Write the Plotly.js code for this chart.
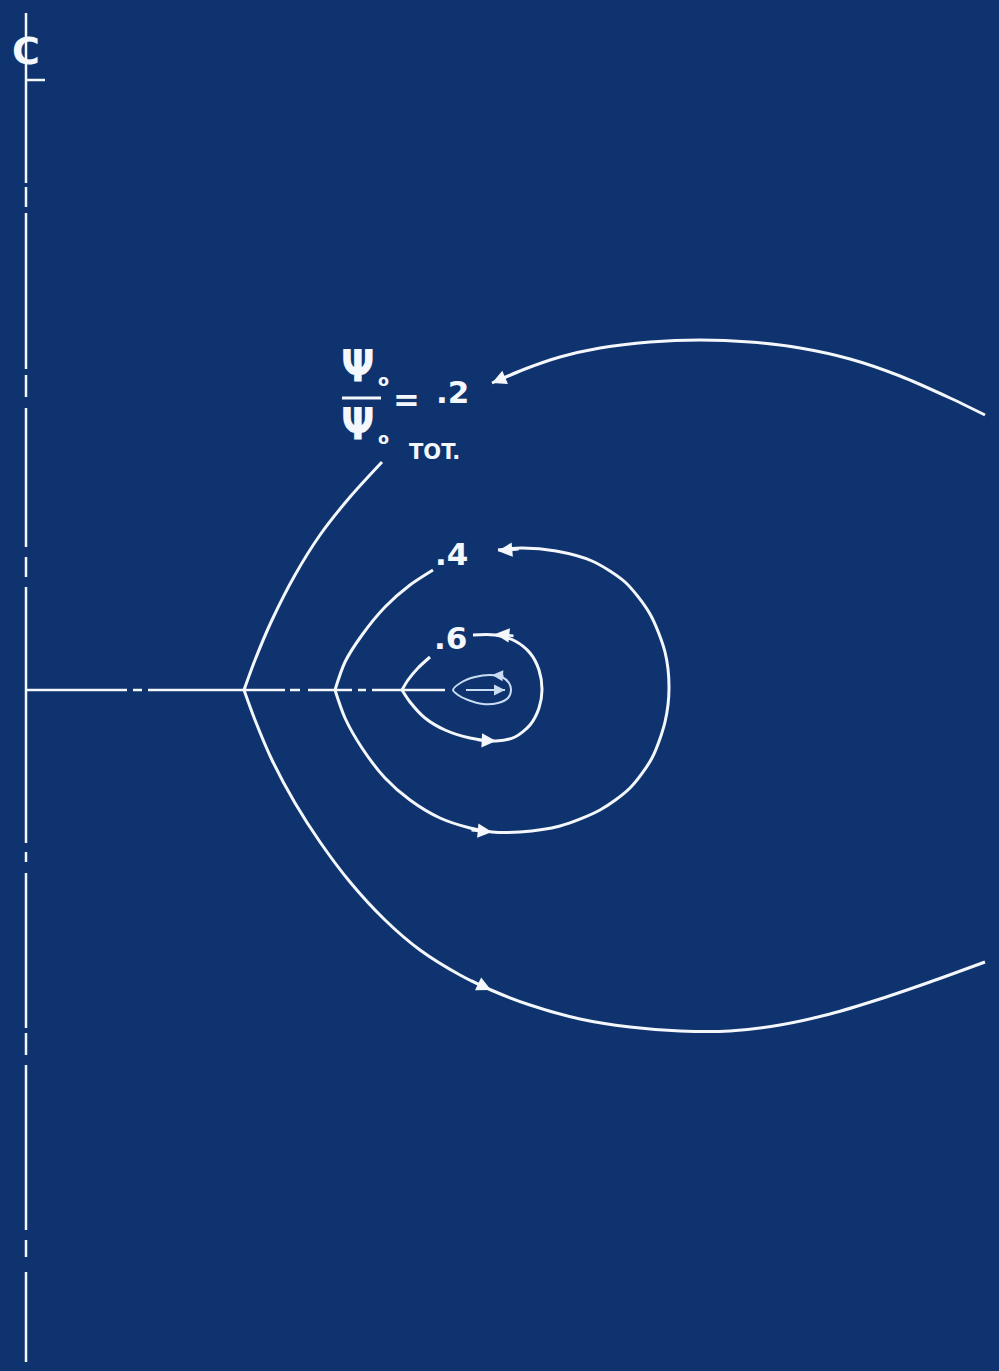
<!DOCTYPE html>
<html>
<head>
<meta charset="utf-8">
<script src="https://cdn.plot.ly/plotly-3.0.1.min.js"></script>
<style>html,body{margin:0;padding:0;background:#0e336e;}#chart{width:999px;height:1371px;}</style>
</head>
<body>
<div id="chart"></div>
<script>
// ---- streamline ψ/ψTOT = 0.2 (upper right arc, ends at arrow near label)
const psi02UpperX = [985, 950, 900, 850, 800, 750, 700, 650, 600, 560, 525, 492];
const psi02UpperY = [415, 398, 376, 359, 348, 342, 340, 342, 348, 357, 369, 383];
// ---- streamline 0.2, branch from label down to cusp on axis
const psi02LeftX = [382, 350, 320, 295, 272, 255, 244];
const psi02LeftY = [462, 497, 535, 575, 620, 660, 690];
// ---- streamline 0.2, lower arc from cusp to right edge
const psi02LowerX = [244, 255, 272, 295, 320, 350, 385, 420, 460, 491, 530, 580, 630, 680, 730, 780, 830, 880, 930, 985];
const psi02LowerY = [690, 720, 760, 803, 842, 882, 920, 950, 975, 990, 1005, 1019, 1027, 1031, 1031, 1025, 1014, 999, 982, 962];
// ---- streamline 0.4 (upper-left branch, then loop)
const psi04LeftX = [433, 410, 385, 362, 345, 335];
const psi04LeftY = [570, 585, 607, 635, 662, 690];
const psi04LoopX = [335, 345, 362, 385, 410, 440, 470, 492, 520, 560, 600, 630, 652, 665, 669, 665, 650, 625, 592, 556, 522, 498];
const psi04LoopY = [690, 718, 748, 778, 800, 818, 828, 832, 832, 826, 810, 788, 758, 722, 688, 652, 614, 582, 561, 551, 548, 550];
// ---- streamline 0.6 (upper-left branch, then loop)
const psi06LeftX = [430, 418, 408, 402];
const psi06LeftY = [657, 668, 680, 690];
const psi06LoopX = [402, 410, 425, 445, 470, 496, 515, 530, 539, 542, 539, 530, 515, 495, 473];
const psi06LoopY = [690, 702, 718, 730, 738, 741, 737, 725, 708, 690, 670, 653, 641, 635, 635];
// ---- inner core loop
const coreX = [453, 462, 475, 490, 502, 509, 511, 508, 498, 483, 468, 458, 453];
const coreY = [690, 682, 677, 675, 677, 683, 690, 698, 703, 704, 700, 695, 690];
const coreAxisX = [466, 505];
const coreAxisY = [690, 690];
// ---- centre lines (dash-dot segments)
const vCenterX = 26;
const vDashStart = [13, 187, 213, 375, 408, 557, 587, 852, 873, 1033, 1065, 1240, 1272];
const vDashEnd   = [183, 207, 369, 397, 547, 577, 843, 862, 1028, 1055, 1230, 1257, 1362];
const hCenterY = 690;
const hDashStart = [27, 133, 148, 290, 308, 358, 372];
const hDashEnd   = [127, 142, 285, 300, 352, 366, 445];
// ---- flow arrows (tip, tail)
const arrowTipX  = [492, 491, 498, 492, 495, 496, 492, 505];
const arrowTipY  = [383, 990, 551, 832, 634, 741, 675, 690];
const arrowTailX = [520, 470, 520, 470, 515, 476, 505, 485];
const arrowTailY = [371, 980, 549, 830, 636, 740, 676, 690];
// ---- labels
const levelLabels = ['.2', '.4', '.6'];
const levelLabelX = [452, 451, 450];
const levelLabelY = [392, 554, 638];

const bg = '#0e336e';
const ink = '#f4f7fb';
const coreInk = '#c9dcf2';

function seg(starts, ends, fixed, vertical) {
  const a = [], b = [];
  for (let i = 0; i < starts.length; i++) {
    if (vertical) { a.push(fixed, fixed, null); b.push(starts[i], ends[i], null); }
    else { a.push(starts[i], ends[i], null); b.push(fixed, fixed, null); }
  }
  return {x: a, y: b};
}
const vSeg = seg(vDashStart, vDashEnd, vCenterX, true);
const hSeg = seg(hDashStart, hDashEnd, hCenterY, false);

const line = (x, y, color, w) => ({x, y, type: 'scatter', mode: 'lines', hoverinfo: 'skip',
  line: {color, width: w, shape: 'spline', smoothing: 0.8}, showlegend: false});
const straight = (x, y, color, w) => ({x, y, type: 'scatter', mode: 'lines', hoverinfo: 'skip',
  line: {color, width: w}, showlegend: false, connectgaps: false});

const traces = [
  straight(vSeg.x, vSeg.y, ink, 2.5),
  straight(hSeg.x, hSeg.y, ink, 2.5),
  line(psi02UpperX, psi02UpperY, ink, 3),
  line(psi02LeftX, psi02LeftY, ink, 3),
  line(psi02LowerX, psi02LowerY, ink, 3),
  line(psi04LeftX, psi04LeftY, ink, 3),
  line(psi04LoopX, psi04LoopY, ink, 3),
  line(psi06LeftX, psi06LeftY, ink, 3),
  line(psi06LoopX, psi06LoopY, ink, 3),
  line(coreX, coreY, coreInk, 2),
  straight(coreAxisX, coreAxisY, coreInk, 2)
];

const font = 'DejaVu Sans';
const condensed = 'DejaVu Sans Condensed, Liberation Sans Narrow, DejaVu Sans';
const annotations = [];
for (let i = 0; i < arrowTipX.length; i++) {
  annotations.push({x: arrowTipX[i], y: arrowTipY[i], ax: arrowTailX[i], ay: arrowTailY[i],
    xref: 'x', yref: 'y', axref: 'x', ayref: 'y', text: '', showarrow: true,
    arrowhead: 2, arrowsize: 1.1, arrowwidth: i >= 6 ? 2 : 2.6,
    arrowcolor: i >= 6 ? coreInk : ink, standoff: 0, startstandoff: 0});
}
const txt = (t, x, y, size, fam) => ({x, y, xref: 'x', yref: 'y', text: t, showarrow: false,
  font: {family: fam || font, size, color: ink, weight: 'bold'}});
for (let i = 0; i < levelLabels.length; i++) {
  annotations.push(txt(levelLabels[i], levelLabelX[i], levelLabelY[i], 31));
}
annotations.push(txt('Ψ', 358, 366, 44, condensed));
annotations.push(txt('o', 383, 380, 16));
annotations.push(txt('Ψ', 358, 424, 44, condensed));
annotations.push(txt('o', 383, 438, 16));
annotations.push(txt('TOT.', 434, 452, 21));
annotations.push(txt('=', 406, 400, 32));
annotations.push(txt('C', 26, 51, 38));

const shapes = [
  {type: 'line', xref: 'x', yref: 'y', x0: 342, x1: 381, y0: 398, y1: 398, line: {color: ink, width: 3}},
  {type: 'line', xref: 'x', yref: 'y', x0: 26, x1: 45, y0: 80, y1: 80, line: {color: ink, width: 2.5}}
];

const layout = {
  width: 999, height: 1371,
  margin: {l: 0, r: 0, t: 0, b: 0},
  paper_bgcolor: bg, plot_bgcolor: bg,
  xaxis: {range: [0, 999], visible: false, fixedrange: true},
  yaxis: {range: [1371, 0], visible: false, fixedrange: true},
  showlegend: false,
  annotations, shapes
};
Plotly.newPlot('chart', traces, layout, {displayModeBar: false, staticPlot: true});
</script>
</body>
</html>
